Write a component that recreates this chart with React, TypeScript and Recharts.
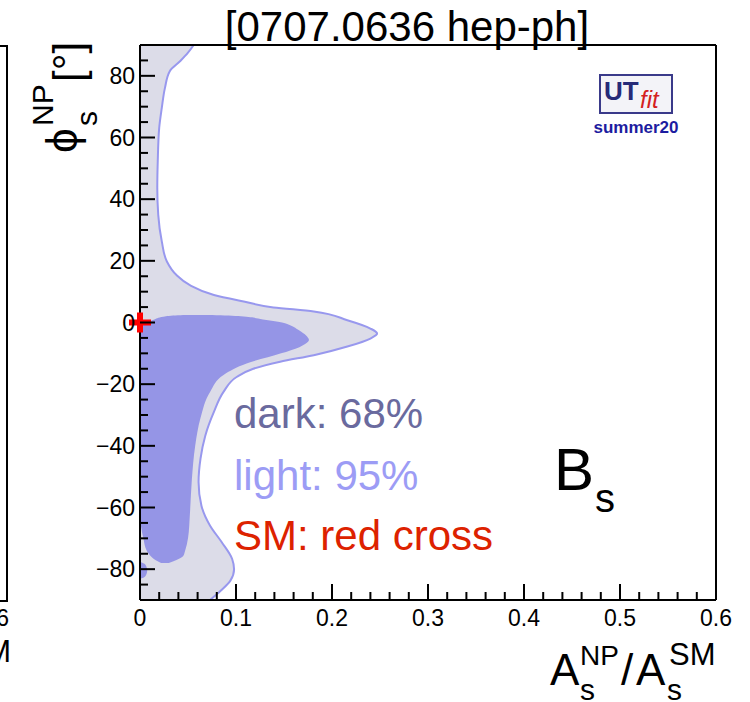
import React from 'react';
import { ComposedChart, Area, XAxis, YAxis, ReferenceLine, ReferenceDot } from 'recharts';

// 95% region: outer edge of A_s^NP/A_s^SM as a function of phi_s^NP
const phiLight = [90, 87.5, 84.8, 81.5, 76.1, 69.6, 63.1, 52.4, 43.6, 34.9, 26.3, 19.8, 15.4, 12.1, 8.9, 6.8, 4.9, 3.6, 0.75, -1.95, -3.6, -5.2, -7.8, -10.6, -12.7, -15, -17.6, -22.5, -29, -36.7, -44.2, -51.7, -59.4, -65.9, -71.2, -76.7, -80, -83.8, -87, -90];
const xLight = [0.056, 0.05, 0.042, 0.031, 0.026, 0.0227, 0.02, 0.0185, 0.018, 0.019, 0.0227, 0.028, 0.038, 0.052, 0.077, 0.108, 0.139, 0.181, 0.216, 0.24, 0.247, 0.24, 0.216, 0.181, 0.146, 0.118, 0.101, 0.087, 0.077, 0.068, 0.063, 0.061, 0.064, 0.073, 0.085, 0.096, 0.098, 0.094, 0.084, 0.073];

// 68% region: low / high edge
const phiDark = [2.4, 2.0, 1.0, 0, -1, -2, -3, -4.5, -5.7, -7, -8, -10, -13.3, -17, -22.5, -31, -40, -51, -62, -70, -74, -75.7, -77, -78];
const darkLow = [0.045, 0.027, 0.015, 0.008, 0.003, 0, 0, 0, 0, 0, 0, 0, 0, 0, 0, 0, 0, 0, 0, 0.0035, 0.007, 0.011, 0.016, 0.022];
const darkHigh = [0.075, 0.105, 0.128, 0.148, 0.157, 0.163, 0.168, 0.174, 0.176, 0.172, 0.166, 0.147, 0.111, 0.087, 0.073, 0.063, 0.0575, 0.054, 0.052, 0.05, 0.047, 0.045, 0.038, 0.03];

// small 68% island near phi = -80
const phiBlob = [-77.7, -78.5, -80.4, -82.3, -83.2];
const xBlob = [0, 0.0055, 0.0075, 0.0055, 0];

const yTickVals = [-85, -80, -75, -70, -65, -60, -55, -50, -45, -40, -35, -30, -25, -20, -15, -10, -5, 0, 5, 10, 15, 20, 25, 30, 35, 40, 45, 50, 55, 60, 65, 70, 75, 80, 85];
const xTickVals = [0, 0.02, 0.04, 0.06, 0.08, 0.1, 0.12, 0.14, 0.16, 0.18, 0.2, 0.22, 0.24, 0.26, 0.28, 0.3, 0.32, 0.34, 0.36, 0.38, 0.4, 0.42, 0.44, 0.46, 0.48, 0.5, 0.52, 0.54, 0.56, 0.58, 0.6];

const lightData = phiLight.map((phi, i) => ({ phi, x: xLight[i] }));
const darkData = phiDark.map((phi, i) => ({ phi, range: [darkLow[i], darkHigh[i]] }));
const blobData = phiBlob.map((phi, i) => ({ phi, x: xBlob[i] }));

const FONT = '"Liberation Sans", Arial, Helvetica, sans-serif';

const YTick = (props: any) => {
  const { x, y, payload } = props;
  const v = payload.value;
  const major = v % 20 === 0;
  const ax = x + 5;
  return (
    <g>
      <line x1={ax} y1={y} x2={ax + (major ? 15 : 8)} y2={y} stroke="#000" strokeWidth={2} />
      {major && (
        <text x={x} y={y} dy={8} textAnchor="end" fontSize={23} fontFamily={FONT} fill="#000">
          {v < 0 ? '\u2212' + Math.abs(v) : String(v)}
        </text>
      )}
    </g>
  );
};

const XTick = (props: any) => {
  const { x, y, payload } = props;
  const v = payload.value;
  const major = Math.round(v * 100) % 10 === 0;
  const ay = y - 4;
  return (
    <g>
      <line x1={x} y1={ay} x2={x} y2={ay - (major ? 16 : 8)} stroke="#000" strokeWidth={2} />
      {major && (
        <text x={x} y={ay + 26} textAnchor="middle" fontSize={23} fontFamily={FONT} fill="#000">
          {v === 0 ? '0' : v.toFixed(1)}
        </text>
      )}
    </g>
  );
};

const SmCross = (props: any) => {
  const { cx, cy } = props;
  return (
    <g>
      <rect x={cx - 11} y={cy - 3} width={22} height={6} fill="#ff0000" />
      <rect x={cx - 3} y={cy - 10} width={6} height={20} fill="#ff0000" />
    </g>
  );
};

export default function App() {
  return (
    <div style={{ position: 'absolute', left: 0, top: 0, width: 750, height: 702, background: '#fff' }}>
      <ComposedChart
        layout="vertical"
        width={750}
        height={702}
        margin={{ top: 45, right: 34, bottom: 62, left: 80 }}
      >
        <Area
          data={lightData}
          dataKey="x"
          type="monotone"
          fill="#dcdce8"
          fillOpacity={1}
          stroke="#9898ee"
          strokeWidth={2}
          isAnimationActive={false}
        />
        <Area
          data={darkData}
          dataKey="range"
          type="monotone"
          fill="#9595e6"
          fillOpacity={1}
          stroke="none"
          isAnimationActive={false}
        />
        <Area
          data={blobData}
          dataKey="x"
          type="monotone"
          fill="#9595e6"
          fillOpacity={1}
          stroke="none"
          isAnimationActive={false}
        />
        <XAxis
          type="number"
          domain={[0, 0.6]}
          allowDataOverflow
          ticks={xTickVals}
          interval={0}
          tickSize={0}
          tickMargin={4}
          height={40}
          axisLine={{ stroke: '#000', strokeWidth: 2 }}
          tick={<XTick />}
        />
        <YAxis
          type="number"
          dataKey="phi"
          domain={[-90, 90]}
          reversed
          allowDataOverflow
          ticks={yTickVals}
          interval={0}
          tickSize={0}
          tickMargin={5}
          width={60}
          axisLine={{ stroke: '#000', strokeWidth: 2 }}
          tick={<YTick />}
        />
        <ReferenceLine y={90} stroke="#000" strokeWidth={2} ifOverflow="visible" />
        <ReferenceLine x={0.6} stroke="#000" strokeWidth={2} ifOverflow="visible" />
        <ReferenceDot x={0} y={0} r={10} ifOverflow="visible" shape={<SmCross />} />
      </ComposedChart>

      <svg
        width={750}
        height={702}
        style={{ position: 'absolute', left: 0, top: 0, pointerEvents: 'none' }}
        fontFamily={FONT}
      >
        {/* edge of neighbouring panel */}
        <polyline points="0,46 7,46 7,601 0,601" fill="none" stroke="#000" strokeWidth={2} />
        <text x={9} y={626} textAnchor="end" fontSize={23}>0.6</text>
        <text x={11} y={662} textAnchor="end" fontSize={31}>M</text>

        <text x={407} y={41} textAnchor="middle" fontSize={42}>[0707.0636 hep-ph]</text>

        <g transform="translate(77,153) rotate(-90)">
          <text fontSize={44}>
            <tspan x={0} y={0}>{'\u03D5'}</tspan>
            <tspan x={27} y={20} fontSize={30}>s</tspan>
            <tspan x={27} y={-24} fontSize={30}>NP</tspan>
            <tspan x={71} y={6} fontSize={42}>[°]</tspan>
          </text>
        </g>

        <text fontSize={44}>
          <tspan x={550} y={685}>A</tspan>
          <tspan x={580} y={700} fontSize={30}>s</tspan>
          <tspan x={580} y={665} fontSize={28}>NP</tspan>
          <tspan x={621} y={685}>/</tspan>
          <tspan x={636} y={685}>A</tspan>
          <tspan x={667} y={700} fontSize={30}>s</tspan>
          <tspan x={669} y={665} fontSize={31}>SM</tspan>
        </text>

        <text x={234} y={428} fontSize={42} fill="#6a6a9e">dark: 68%</text>
        <text x={234} y={490} fontSize={42} fill="#9c9cf5">light: 95%</text>
        <text x={234} y={550} fontSize={42} fill="#dd2200">SM: red cross</text>

        <text x={554} y={490} fontSize={60} fill="#000">B</text>
        <text x={595} y={512} fontSize={40} fill="#000">s</text>

        <rect x={600} y={75} width={72} height={38} fill="#f3f3f8" stroke="#3a3a8a" strokeWidth={2} />
        <text x={604} y={100} fontSize={26} fontWeight="bold" fill="#262a78">UT</text>
        <text x={640} y={108} fontSize={24} fontStyle="italic" fill="#d42020">fit</text>
        <text x={636} y={133} textAnchor="middle" fontSize={17} fontWeight="bold" fill="#1c1ca0">summer20</text>
      </svg>
    </div>
  );
}
